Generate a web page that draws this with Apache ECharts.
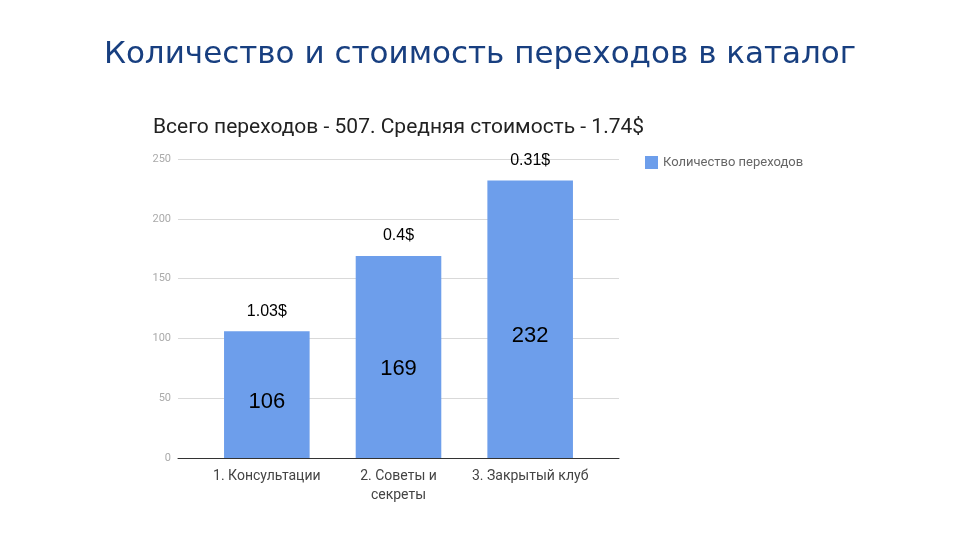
<!DOCTYPE html>
<html>
<head>
<meta charset="utf-8">
<script src="https://cdn.jsdelivr.net/npm/echarts@6/dist/echarts.min.js"></script>
<style>
  html, body { margin: 0; padding: 0; background: #fff; }
  #chart { width: 960px; height: 540px; }
</style>
</head>
<body>
<div id="chart"></div>
<script>
var categories = ['1. Консультации', '2. Советы и\nсекреты', '3. Закрытый клуб'];
var clicks = [106, 169, 232];
var costs = ['1.03$', '0.4$', '0.31$'];
var yTicks = [0, 50, 100, 150, 200, 250];

var chart = echarts.init(document.getElementById('chart'));
// grid 0 carries the gridlines and y labels, grid 1 (narrower) carries the bars
var option = {
  backgroundColor: '#fff',
  animation: false,
  title: [{
    text: 'Количество и стоимость переходов в каталог',
    left: 'center',
    top: 34,
    textStyle: { fontFamily: 'DejaVu Sans', fontSize: 31, fontWeight: 'normal', color: '#183f80' }
  }, {
    text: 'Всего переходов - 507. Средняя стоимость - 1.74$',
    left: 148,
    top: 112,
    textStyle: { fontFamily: 'Roboto', fontSize: 21, fontWeight: 'normal', color: '#222' }
  }],
  legend: {
    data: ['Количество переходов'],
    left: 640,
    top: 151,
    icon: 'rect',
    itemWidth: 13,
    itemHeight: 13,
    itemGap: 10,
    textStyle: { fontFamily: 'Roboto', fontSize: 13, color: '#666' }
  },
  grid: [
    { left: 178, right: 341, top: 159, bottom: 82 },
    { left: 201, right: 364, top: 159, bottom: 82 }
  ],
  xAxis: [{
    type: 'value',
    gridIndex: 0,
    min: 0,
    max: 1,
    axisLine: { show: true, onZero: false, lineStyle: { color: '#333' } },
    axisTick: { show: false },
    axisLabel: { show: false },
    splitLine: { show: false }
  }, {
    type: 'category',
    gridIndex: 1,
    data: categories,
    axisTick: { show: false },
    axisLine: { show: false },
    axisLabel: { interval: 0, hideOverlap: false, fontFamily: 'Roboto', fontSize: 14, color: '#444', margin: 9, lineHeight: 19 }
  }],
  yAxis: [{
    type: 'value',
    gridIndex: 0,
    min: yTicks[0],
    max: yTicks[yTicks.length - 1],
    interval: 50,
    axisLine: { show: false },
    axisTick: { show: false },
    splitLine: { lineStyle: { color: '#d9d9d9' } },
    axisLabel: { fontFamily: 'Roboto', fontSize: 11, color: '#aaa', margin: 7 }
  }, {
    type: 'value',
    gridIndex: 1,
    min: yTicks[0],
    max: yTicks[yTicks.length - 1],
    interval: 50,
    show: false
  }],
  series: [{
    name: 'Количество переходов',
    type: 'bar',
    xAxisIndex: 1,
    yAxisIndex: 1,
    data: clicks,
    barWidth: '65%',
    itemStyle: { color: '#6d9eeb' },
    label: {
      show: true,
      position: ['50%', '56%'],
      align: 'center',
      verticalAlign: 'middle',
      fontFamily: 'Arial',
      fontSize: 22,
      color: '#000'
    }
  }, {
    name: 'cost',
    type: 'bar',
    xAxisIndex: 1,
    yAxisIndex: 1,
    data: clicks,
    barWidth: '65%',
    barGap: '-100%',
    silent: true,
    itemStyle: { color: 'rgba(0,0,0,0)' },
    label: {
      show: true,
      position: 'top',
      distance: 12,
      fontFamily: 'Arial',
      fontSize: 16,
      color: '#000',
      formatter: function(p) { return costs[p.dataIndex]; }
    }
  }]
};
chart.setOption(option);
</script>
</body>
</html>
